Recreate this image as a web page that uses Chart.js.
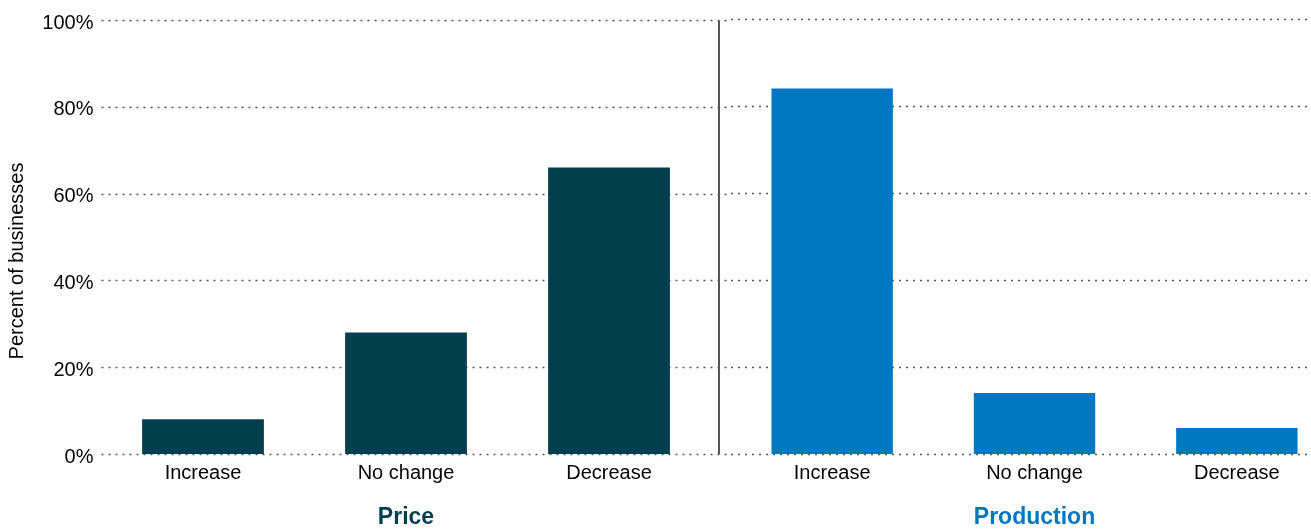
<!DOCTYPE html>
<html>
<head>
<meta charset="utf-8">
<script src="https://cdn.jsdelivr.net/npm/chart.js@4.4.1/dist/chart.umd.min.js"></script>
<style>
    html, body { margin: 0; padding: 0; background: #fff; overflow: hidden; }
    #wrap { position: relative; width: 1311px; height: 529px; overflow: hidden; }
    #price-box { position: absolute; left: 0; top: 0; width: 731px; height: 529px; }
    #production-box { position: absolute; left: 731px; top: 0; width: 607px; height: 529px; }
</style>
</head>
<body>
<div id="wrap">
    <div id="price-box"><canvas id="price-chart"></canvas></div>
    <div id="production-box"><canvas id="production-chart"></canvas></div>
</div>
<script>
'use strict';

const change_labels = ['Increase', 'No change', 'Decrease'];
const price_values = [8, 28, 66];
const production_values = [84, 14, 6];
const y_ticks = [0, 20, 40, 60, 80, 100];
const y_title = 'Percent of businesses';

const FONT = '"Liberation Sans", Arial, Helvetica, sans-serif';
const TEXT = '#050505';
const PRICE_COLOR = '#033f4f';
const PRODUCTION_COLOR = '#0078c1';

// dotted horizontal rules, drawn across the whole canvas so the two charts join up
const dotted_grid = {
    id: 'dotted_grid',
    beforeDatasetsDraw(chart, args, opts) {
        const { ctx } = chart;
        const y = chart.scales.y;
        ctx.save();
        ctx.strokeStyle = '#555';
        ctx.lineWidth = 1.5;
        ctx.setLineDash([2, 5]);
        for (const v of y_ticks) {
            const py = Math.round(y.getPixelForValue(v)) + 0.5;
            ctx.beginPath();
            ctx.moveTo(opts.from === 'area' ? chart.chartArea.left : 0, py);
            ctx.lineTo(chart.width, py);
            ctx.stroke();
        }
        ctx.restore();
    },
    afterDraw(chart, args, opts) {
        const { ctx } = chart;
        const y = chart.scales.y;
        ctx.save();
        if (opts.divider !== undefined) {
            // solid line separating the two groups
            ctx.strokeStyle = '#555';
            ctx.lineWidth = 2;
            ctx.beginPath();
            ctx.moveTo(opts.divider, y.getPixelForValue(100) + 1);
            ctx.lineTo(opts.divider, y.getPixelForValue(0));
            ctx.stroke();
        }
        if (opts.title) {
            ctx.fillStyle = TEXT;
            ctx.font = `20px ${FONT}`;
            ctx.textAlign = 'center';
            ctx.textBaseline = 'middle';
            ctx.translate(17, 261);
            ctx.rotate(-Math.PI / 2);
            ctx.fillText(opts.title, 0, 0);
        }
        ctx.restore();
    }
};

const make_chart = (canvas_id, values, color, group_name, is_left) => {
    return new Chart(document.querySelector(canvas_id), {
        type: 'bar',
        data: {
            labels: change_labels,
            datasets: [{
                label: group_name,
                data: values,
                backgroundColor: color,
                borderWidth: 0,
                barPercentage: 0.6,
                categoryPercentage: 1.0
            }]
        },
        options: {
            responsive: true,
            maintainAspectRatio: false,
            animation: false,
            layout: {
                padding: { top: 19, right: is_left ? 20.5 : 0, bottom: 0, left: 0 }
            },
            plugins: {
                legend: { display: false },
                tooltip: { enabled: false },
                dotted_grid: is_left
                    ? { from: 'area', divider: 719, title: y_title }
                    : { from: 'canvas' }
            },
            scales: {
                x: {
                    grid: { display: false, drawTicks: false },
                    border: { display: false },
                    ticks: {
                        color: TEXT,
                        padding: 7,
                        font: { family: FONT, size: 20 }
                    },
                    title: {
                        display: true,
                        text: group_name,
                        color: color,
                        padding: 0,
                        font: { family: FONT, size: 23, weight: 'bold', lineHeight: 1 }
                    },
                    afterFit: scale => { scale.height = 75; }
                },
                y: {
                    min: 0,
                    max: 100,
                    grid: { display: false, drawTicks: false },
                    border: { display: false },
                    ticks: {
                        display: is_left,
                        stepSize: 20,
                        padding: 8,
                        labelOffset: 3,
                        color: TEXT,
                        font: { family: FONT, size: 20 },
                        callback: v => `${v}%`
                    },
                    afterFit: scale => { scale.width = is_left ? 101.5 : 0; }
                }
            }
        },
        plugins: [dotted_grid]
    });
}

make_chart('#price-chart', price_values, PRICE_COLOR, 'Price', true);
make_chart('#production-chart', production_values, PRODUCTION_COLOR, 'Production', false);
</script>
</body>
</html>
